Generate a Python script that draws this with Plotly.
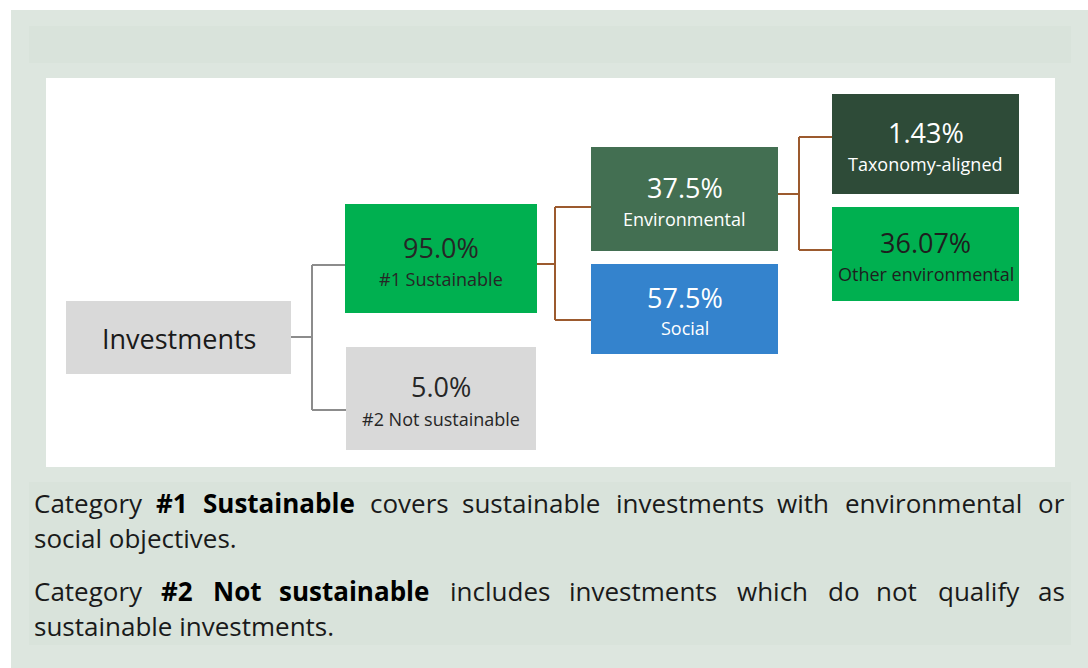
import plotly.graph_objects as go

# ---------------- data ----------------
node_names = ["Investments", "#1 Sustainable", "#2 Not sustainable", "Environmental",
              "Social", "Taxonomy-aligned", "Other environmental"]
node_values = [None, 95.0, 5.0, 37.5, 57.5, 1.43, 36.07]
node_decimals = [None, 1, 1, 1, 1, 2, 2]
node_parent = [None, 0, 0, 1, 1, 3, 3]

note_lines = [
    [("Category", False), ("#1", True), ("Sustainable", True), ("covers", False),
     ("sustainable", False), ("investments", False), ("with", False),
     ("environmental", False), ("or", False)],
    [("social objectives.", False)],
    [("Category", False), ("#2", True), ("Not", True), ("sustainable", True),
     ("includes", False), ("investments", False), ("which", False), ("do", False),
     ("not", False), ("qualify", False), ("as", False)],
    [("sustainable investments.", False)],
]

# ---------------- layout / style ----------------
W, H = 1088, 668
FONT = "Open Sans"
box_geom = [(66, 301, 291, 374), (345, 204, 537, 313), (346, 347, 536, 450),
            (591, 147, 778, 251), (591, 264, 778, 354), (832, 94, 1019, 194),
            (832, 207, 1019, 301)]
box_fill = ["#D9D9D9", "#00B050", "#D9D9D9", "#436F52", "#3483CD", "#2E4B38", "#00B050"]
text_col = ["#1A1A1A", "#262626", "#262626", "#FFFFFF", "#FFFFFF", "#FFFFFF", "#1E1E1E"]
value_y = [338, 247, 386, 187, 297, 132, 242]
label_y = [None, 279, 419, 219, 328, 164, 274]
in_y = [None, 265, 410, 207, 320, 137, 250]
out_y = {0: 337, 1: 264, 3: 194}
junction_x = {0: 312, 1: 555, 3: 799}
conn_col = {0: "#8C8C8C", 1: "#9C5A2E", 3: "#9C5A2E"}

word_x = [
    [34.5, 157, 203.5, 371, 463, 617, 778, 846, 1039],
    [34.5],
    [34.5, 162, 214, 280, 451, 570, 738, 829, 877, 939, 1039],
    [34.5],
]
WORD_PAD = 3
line_y = [503, 538, 591, 626]

fig = go.Figure()
shapes = []
ann = []

# backgrounds
shapes.append(dict(type="rect", x0=11, y0=10, x1=W + 5, y1=H + 5, fillcolor="#DDE6DF", line_width=0, layer="below"))
shapes.append(dict(type="rect", x0=29, y0=26, x1=1071, y1=63, fillcolor="#D9E3DB", line_width=0, layer="below"))
shapes.append(dict(type="rect", x0=29, y0=482, x1=1071, y1=645, fillcolor="#D9E3DB", line_width=0, layer="below"))
shapes.append(dict(type="rect", x0=46, y0=78, x1=1055, y1=467, fillcolor="#FFFFFF", line_width=0, layer="below"))

# connectors
for p in junction_x:
    kids = [i for i, par in enumerate(node_parent) if par == p]
    jx = junction_x[p]
    col = conn_col[p]
    px1 = box_geom[p][2]
    shapes.append(dict(type="line", x0=px1, y0=out_y[p], x1=jx, y1=out_y[p], line=dict(color=col, width=2)))
    ys = [in_y[k] for k in kids]
    shapes.append(dict(type="line", x0=jx, y0=min(ys), x1=jx, y1=max(ys), line=dict(color=col, width=2)))
    for k in kids:
        shapes.append(dict(type="line", x0=jx, y0=in_y[k], x1=box_geom[k][0], y1=in_y[k], line=dict(color=col, width=2)))

# boxes
for i, (x0, y0, x1, y1) in enumerate(box_geom):
    shapes.append(dict(type="rect", x0=x0, y0=y0, x1=x1, y1=y1, fillcolor=box_fill[i], line_width=0))
    cx = (x0 + x1) / 2
    if node_values[i] is None:
        ann.append(dict(x=cx, y=value_y[i], text=node_names[i], showarrow=False,
                        font=dict(family=FONT, size=27, color=text_col[i]), xanchor="center", yanchor="middle"))
    else:
        vt = f"{node_values[i]:.{node_decimals[i]}f}%"
        ann.append(dict(x=cx, y=value_y[i], text=vt, showarrow=False,
                        font=dict(family=FONT, size=27, color=text_col[i]), xanchor="center", yanchor="middle"))
        ann.append(dict(x=cx, y=label_y[i], text=node_names[i], showarrow=False,
                        font=dict(family=FONT, size=18, color=text_col[i]), xanchor="center", yanchor="middle"))

# note text
for li, words in enumerate(note_lines):
    for wi, (w, b) in enumerate(words):
        t = f"<b>{w}</b>" if b else w
        ann.append(dict(x=word_x[li][wi] - WORD_PAD, y=line_y[li], text=t, showarrow=False,
                        font=dict(family=FONT, size=26, color="#000000" if b else "#1A1A1A"),
                        xanchor="left", yanchor="middle"))

# invisible trace to anchor axes
fig.add_trace(go.Scatter(x=[0, W], y=[0, H], mode="markers", marker=dict(opacity=0), hoverinfo="skip", showlegend=False))

fig.update_layout(
    width=W, height=H, margin=dict(l=0, r=0, t=0, b=0),
    paper_bgcolor="#FFFFFF", plot_bgcolor="#FFFFFF",
    xaxis=dict(range=[0, W], visible=False, fixedrange=True),
    yaxis=dict(range=[H, 0], visible=False, fixedrange=True),
    shapes=shapes, annotations=ann, showlegend=False,
)
fig.write_html("out.html", config={"displayModeBar": False})
